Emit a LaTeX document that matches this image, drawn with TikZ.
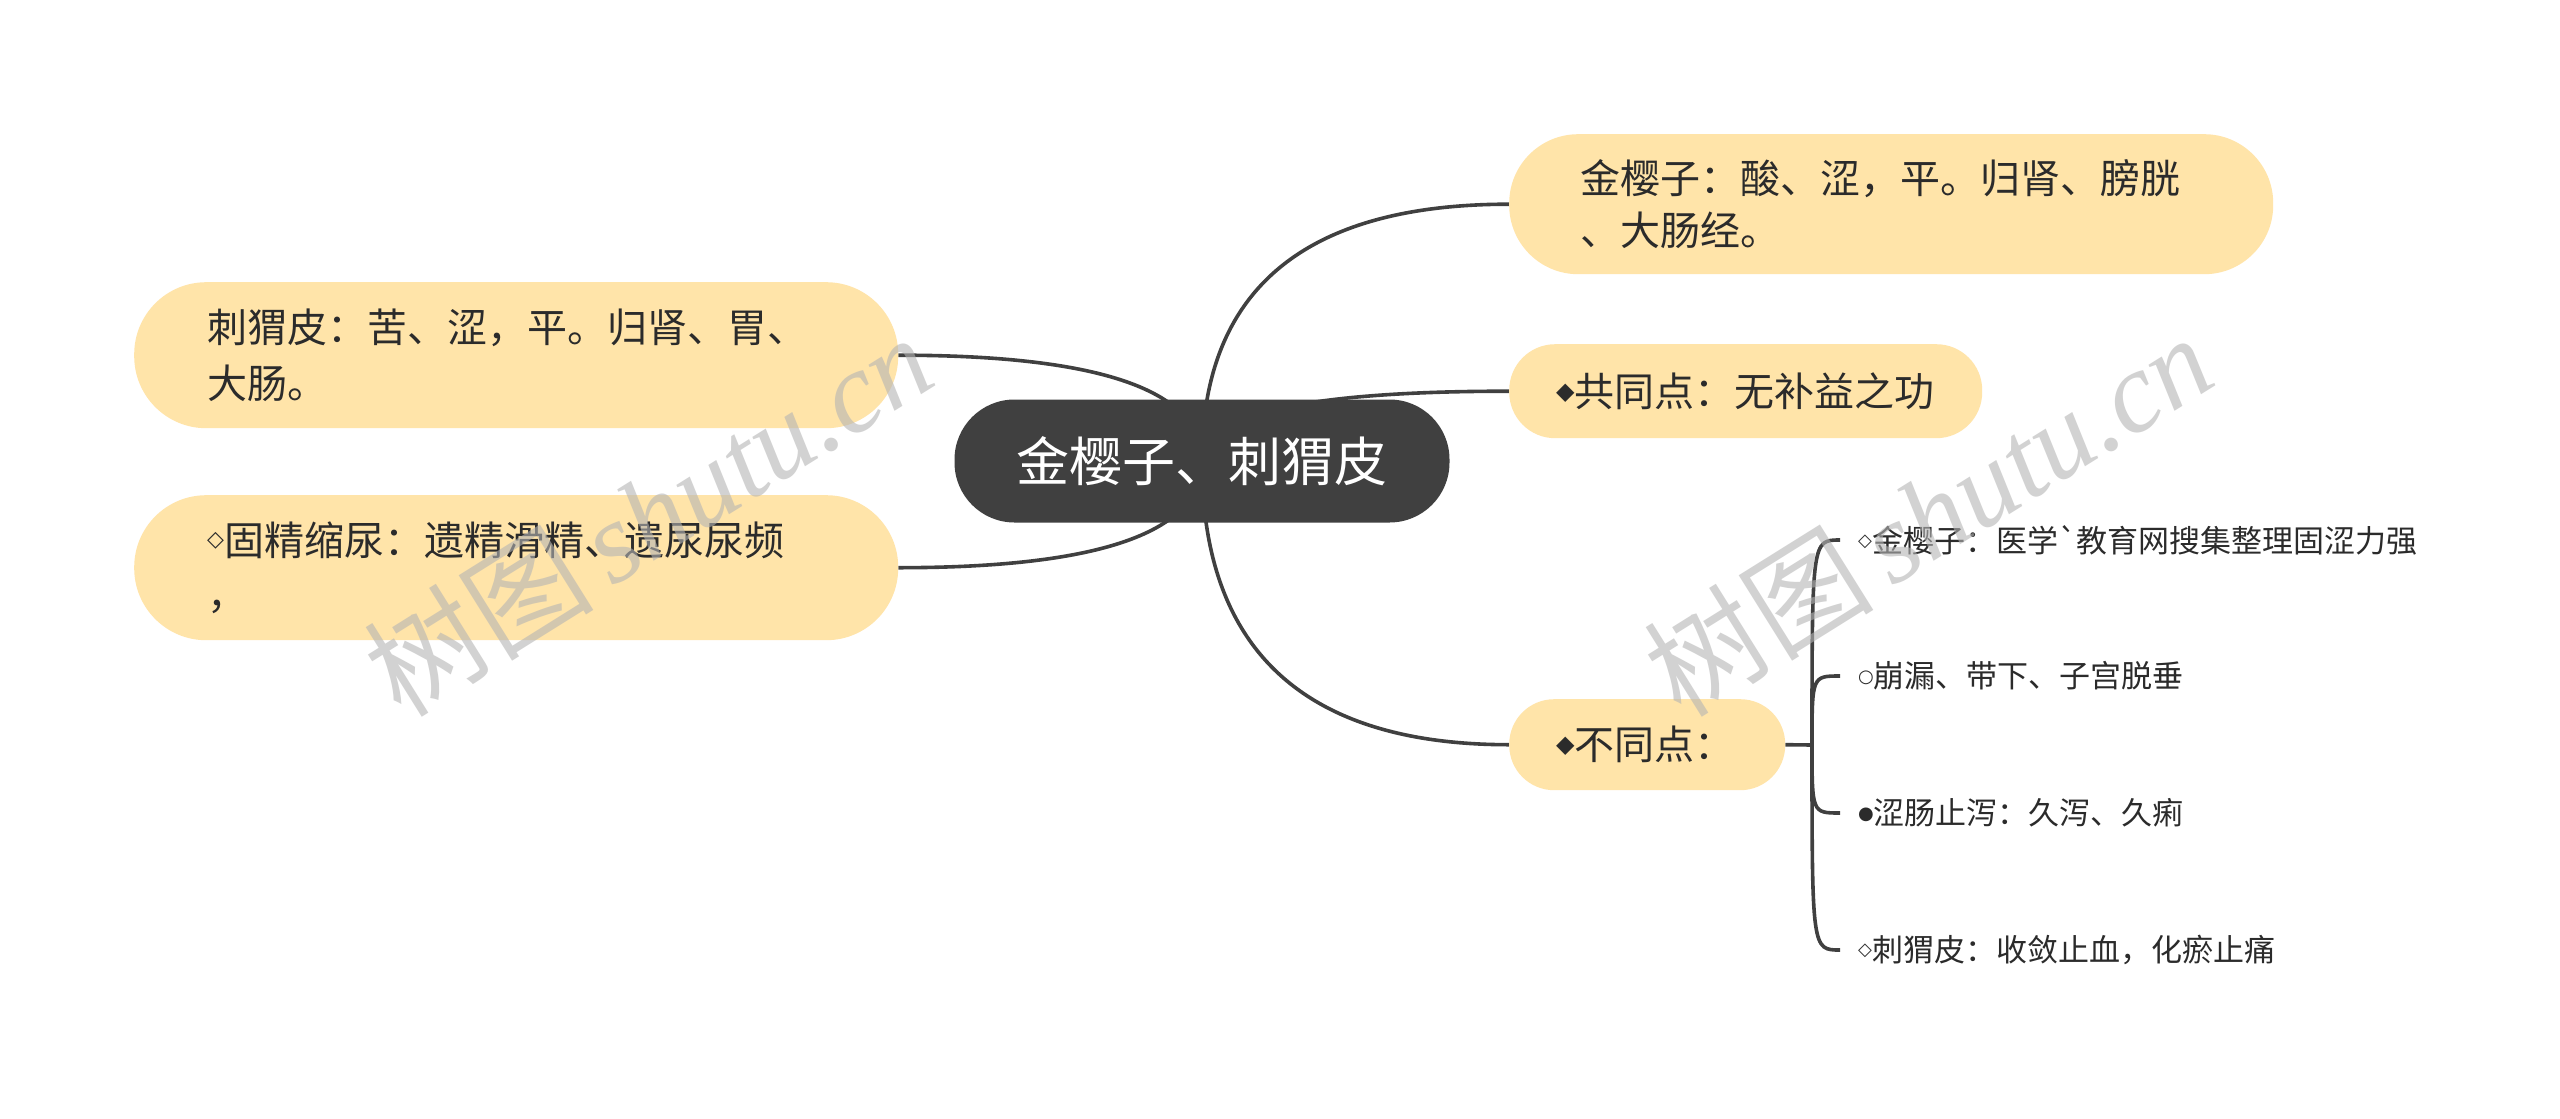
\documentclass[tikz,border=0pt]{standalone}
\usepackage{fontspec}
\setmainfont{Noto Sans CJK SC}
\newfontfamily\symfont{DejaVu Sans}
\newfontfamily\wmserif{Liberation Serif}
\usetikzlibrary{calc,backgrounds}

\definecolor{nodefill}{HTML}{FFE4A9}
\definecolor{rootfill}{HTML}{404040}
\definecolor{linec}{HTML}{404040}
\definecolor{txt}{HTML}{2B2B2B}
\definecolor{wmgray}{HTML}{B4B4B4}

% #1 size, #2 raise, #3 symbol
\newcommand{\bsym}[3]{\raisebox{#2}{\symfont\fontsize{#1}{#1}\selectfont #3}}

\tikzset{
  conn/.style={draw=linec, line width=3.6pt},
  qcurve/.style={to path={.. controls ($(\tikztostart)!2/3!(\tikztostart |- \tikztotarget)$) and ($(\tikztotarget)!2/3!(\tikztostart |- \tikztotarget)$) .. (\tikztotarget)}},
  topic/.style={fill=nodefill, text=txt, align=left, anchor=north west,
    inner ysep=0pt, font=\fontsize{40}{54}\selectfont},
  subitem/.style={text=txt, anchor=west, inner xsep=18pt, inner ysep=0pt,
    font=\fontsize{31}{36}\selectfont},
  watermark/.style={text=wmgray, opacity=0.6, rotate=32, inner sep=0pt}
}

\begin{document}
\begin{tikzpicture}[x=1pt,y=-1pt]
\useasboundingbox (0,0) rectangle (2560,1119);

% root
\node[fill=rootfill, text=white, rounded corners=60pt, minimum width=495pt,
  minimum height=123pt, inner sep=0pt, font=\fontsize{53}{60}\selectfont]
  (root) at (1202,461) {金樱子、刺猬皮};

% right topics
\node[topic, rounded corners=69pt, minimum height=140pt, inner xsep=71pt,
  text width=622pt, font=\fontsize{40}{52}\selectfont]
  (k1) at (1509,134) {金樱子：酸、涩，平。归肾、膀胱\\、大肠经。};
\node[topic, rounded corners=46pt, minimum height=94pt, inner xsep=47pt,
  text width=379pt]
  (k2) at (1509,344) {\bsym{24}{7pt}{◆}共同点：无补益之功};
\node[topic, rounded corners=45pt, minimum height=91pt, inner xsep=47pt,
  text width=182pt]
  (k3) at (1509,699) {\bsym{24}{7pt}{◆}不同点：};

% left topics
\node[topic, rounded corners=72pt, minimum height=146pt, inner xsep=73pt,
  text width=618pt, font=\fontsize{40}{56}\selectfont]
  (l1) at (134,282) {刺猬皮：苦、涩，平。归肾、胃、\\大肠。};
\node[topic, rounded corners=72pt, minimum height=145pt, inner xsep=73pt,
  text width=618pt, font=\fontsize{40}{54}\selectfont]
  (l2) at (134,495) {\bsym{22}{9pt}{◇}固精缩尿：遗精滑精、遗尿尿频\\，};

% sub items of 不同点
\node[subitem] (s1) at (1840,540) {\bsym{18}{6pt}{◇}金樱子：医学\textasciigrave 教育网搜集整理固涩力强};
\node[subitem] (s2) at (1840,676) {\bsym{18}{5pt}{○}崩漏、带下、子宫脱垂};
\node[subitem] (s3) at (1840,813) {\bsym{18}{5pt}{●}涩肠止泻：久泻、久痢};
\node[subitem] (s4) at (1840,950) {\bsym{18}{6pt}{◇}刺猬皮：收敛止血，化瘀止痛};

\coordinate (br) at (1812,745);

\begin{scope}[on background layer]
  \fill[white] (0,0) rectangle (2560,1119);
  \draw[conn] (root.center) to[qcurve] (k1.west);
  \draw[conn] (root.center) to[qcurve] (k2.west);
  \draw[conn] (root.center) to[qcurve] (k3.west);
  \draw[conn] (root.center) to[qcurve] (l1.east);
  \draw[conn] (root.center) to[qcurve] (l2.east);
  \draw[conn] (k3.east) -- (br);
  \draw[conn] (br) .. controls (br |- s1.west) .. (s1.west);
  \draw[conn] (br) .. controls (br |- s2.west) .. (s2.west);
  \draw[conn] (br) .. controls (br |- s3.west) .. (s3.west);
  \draw[conn] (br) .. controls (br |- s4.west) .. (s4.west);
\end{scope}

% watermarks
\node[watermark] (wm1) at (648,514) {\fontsize{115}{115}\selectfont 树图\,{\wmserif\itshape shutu.cn}};
\node[watermark] (wm2) at (1928,514) {\fontsize{115}{115}\selectfont 树图\,{\wmserif\itshape shutu.cn}};
\end{tikzpicture}
\end{document}
